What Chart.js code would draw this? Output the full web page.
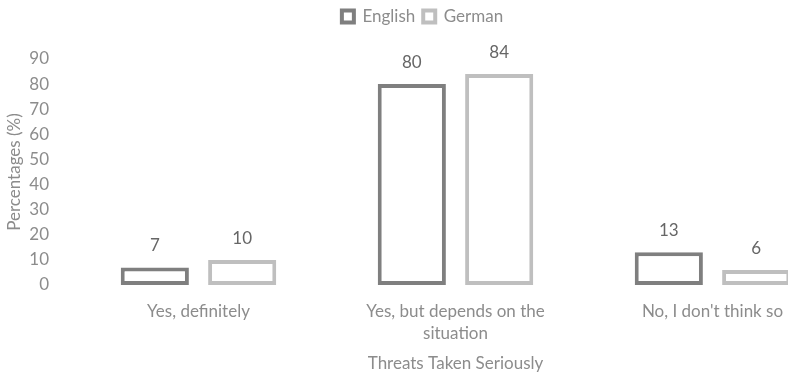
<!DOCTYPE html>
<html>
<head>
<meta charset="utf-8">
<script src="https://cdn.jsdelivr.net/npm/chart.js@4.4.0/dist/chart.umd.min.js"></script>
<style>
	body { margin: 0; overflow: hidden; background: #fff; }
	canvas { display: block; }
</style>
</head>
<body>
<canvas id="chart" width="846" height="374"></canvas>
<script>
const categories = ['Yes, definitely', ['Yes, but depends on the', 'situation'], "No, I don't think so"]
const english = [7, 80, 13]
const german = [10, 84, 6]
const yTicks = [0, 10, 20, 30, 40, 50, 60, 70, 80, 90]

const FONT = 'Lato, "Open Sans", sans-serif'
const GREY = '#8c8c8c'

// draw the value above each bar
const valueLabels = {
	id: 'valueLabels',
	afterDatasetsDraw(chart) {
		const ctx = chart.ctx
		ctx.save()
		ctx.font = '17px ' + FONT
		ctx.fillStyle = '#666666'
		ctx.textAlign = 'center'
		ctx.textBaseline = 'bottom'
		chart.data.datasets.forEach((ds, i) => {
			chart.getDatasetMeta(i).data.forEach((bar, j) => {
				ctx.fillText(ds.data[j], bar.x, bar.y - 13)
			})
		})
		ctx.restore()
	},
}

// extra room under the legend
const legendSpace = {
	id: 'legendSpace',
	beforeInit(chart) {
		const fit = chart.legend.fit
		chart.legend.fit = function () {
			fit.bind(chart.legend)()
			this.height += 24
		}
	},
}

new Chart(document.getElementById('chart'), {
	type: 'bar',
	data: {
		labels: categories,
		datasets: [
			{
				label: 'English',
				data: english,
				backgroundColor: '#ffffff',
				borderColor: '#7f7f7f',
				borderWidth: 4,
				borderSkipped: false,
				categoryPercentage: 0.68,
				barPercentage: 0.78,
			},
			{
				label: 'German',
				data: german,
				backgroundColor: '#ffffff',
				borderColor: '#bfbfbf',
				borderWidth: 4,
				borderSkipped: false,
				categoryPercentage: 0.68,
				barPercentage: 0.78,
			},
		],
	},
	options: {
		responsive: false,
		animation: false,
		layout: { padding: { left: 4, right: 5, top: 0, bottom: 0 } },
		plugins: {
			legend: {
				position: 'top',
				labels: {
					font: { family: FONT, size: 17 },
					color: GREY,
					boxWidth: 12,
					boxHeight: 12,
					padding: 8,
				},
			},
			tooltip: { enabled: false },
		},
		scales: {
			x: {
				grid: { display: false, drawTicks: false },
				border: { display: false },
				afterFit: axis => {
					axis.height = 89
				},
				ticks: {
					font: { family: FONT, size: 17, lineHeight: 1.3 },
					color: GREY,
					maxRotation: 0,
					padding: 15,
				},
				title: {
					display: true,
					text: 'Threats Taken Seriously',
					font: { family: FONT, size: 17 },
					color: GREY,
					padding: { top: 0, bottom: 0 },
				},
			},
			y: {
				min: 0,
				max: 90,
				grid: { display: false, drawTicks: false },
				border: { display: false },
				afterFit: axis => {
					axis.width = 66
				},
				afterBuildTicks: axis => {
					axis.ticks = yTicks.map(v => ({ value: v }))
				},
				ticks: { font: { family: FONT, size: 17 }, color: GREY, padding: 21 },
				title: {
					display: true,
					text: 'Percentages (%)',
					font: { family: FONT, size: 17 },
					color: GREY,
					padding: { top: 0, bottom: 0 },
				},
			},
		},
	},
	plugins: [valueLabels, legendSpace],
})
</script>
</body>
</html>
